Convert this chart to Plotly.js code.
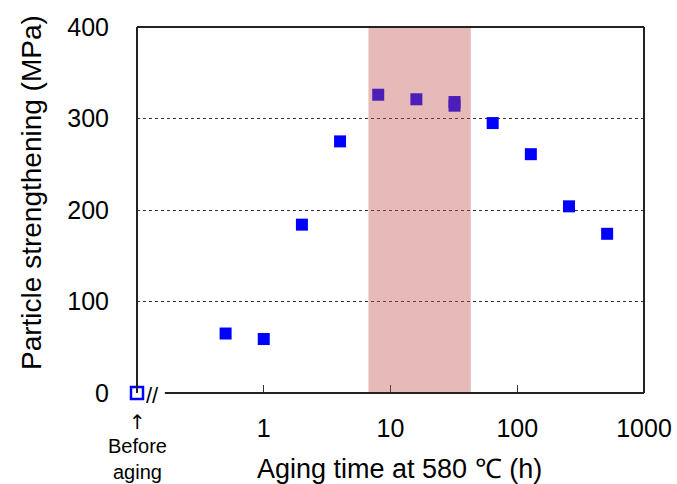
<!DOCTYPE html>
<html><head><meta charset="utf-8">
<script src="https://cdn.plot.ly/plotly-3.0.1.min.js"></script>
<style>body{margin:0;background:#fff}#chart{width:677px;height:484px}</style>
</head><body><div id="chart"></div>
<script>
// Data
const agingTime = [0.5, 1, 2, 4, 8, 16, 32, 32, 64, 128, 256, 512];
const strengthening = [65, 59, 184, 275, 326, 321, 318, 314, 295, 261, 204, 174];
const beforeX = [0.1];
const beforeY = [0];
const shadeRange = [6.7, 43];
const xTickVals = [1, 10, 100, 1000];
const xTickText = ['1', '10', '100', '1000'];
const yTickVals = [0, 100, 200, 300, 400];
const xRangeLog = [-1, 3];

const F = 'Liberation Sans, Arial, sans-serif';
const toPaper = v => (Math.log10(v) - xRangeLog[0]) / (xRangeLog[1] - xRangeLog[0]);

const traces = [
  {x: agingTime, y: strengthening, type: 'scatter', mode: 'markers',
   marker: {symbol: 'square', size: 12, color: '#0000ff'}, hoverinfo: 'x+y'},
  {x: beforeX, y: beforeY, type: 'scatter', mode: 'markers', cliponaxis: false,
   marker: {symbol: 'square-open', size: 12, color: '#0000ff', line: {width: 2.5, color: '#0000ff'}}}
];

const layout = {
  width: 677, height: 484,
  margin: {l: 137, r: 33, t: 27, b: 91},
  paper_bgcolor: '#fff', plot_bgcolor: '#fff',
  showlegend: false,
  font: {family: F, color: '#000'},
  xaxis: {type: 'log', range: xRangeLog, tickvals: xTickVals, ticktext: xTickText,
    ticks: 'inside', ticklen: 8, tickwidth: 1, tickcolor: '#333',
    showgrid: false, zeroline: false, showline: false,
    tickfont: {size: 25, family: F, color: '#000'}, ticklabelstandoff: 18},
  yaxis: {range: [0, 400], tickvals: yTickVals, ticks: '', showline: false,
    showgrid: true, gridcolor: '#333', griddash: 'dot', gridwidth: 1, zeroline: false,
    tickfont: {size: 25, family: F, color: '#000'}, ticklabelstandoff: 27},
  shapes: [
    {type: 'rect', xref: 'paper', yref: 'paper', x0: toPaper(shadeRange[0]), x1: toPaper(shadeRange[1]),
     y0: 0, y1: 1, fillcolor: 'rgba(192,77,77,0.39)', line: {width: 0}, layer: 'above'},
    {type: 'line', xref: 'paper', yref: 'paper', x0: 0, x1: 0, y0: 0, y1: 1, line: {color: '#222', width: 2}, layer: 'above'},
    {type: 'line', xref: 'paper', yref: 'paper', x0: 0, x1: 1, y0: 1, y1: 1, line: {color: '#222', width: 2}, layer: 'above'},
    {type: 'line', xref: 'paper', yref: 'paper', x0: 1, x1: 1, y0: 0, y1: 1, line: {color: '#222', width: 2}, layer: 'above'},
    {type: 'line', xref: 'paper', yref: 'paper', x0: 0.055, x1: 1, y0: 0, y1: 0, line: {color: '#222', width: 2}, layer: 'above'}
  ],
  annotations: [
    {xref: 'paper', yref: 'paper', x: 0.03, y: 0, yshift: -2, text: '//', showarrow: false,
     font: {size: 22, family: F, color: '#000'}, xanchor: 'center', yanchor: 'middle'},
    {xref: 'paper', yref: 'paper', x: 0.0, y: 0, yshift: -29, text: '↑', showarrow: false,
     font: {size: 20, family: 'DejaVu Sans', color: '#000'}, xanchor: 'center', yanchor: 'middle'},
    {xref: 'paper', yref: 'paper', x: 0.0, y: 0, yshift: -66, text: 'Before<br>aging', showarrow: false,
     font: {size: 20, family: F, color: '#000'}, xanchor: 'center', yanchor: 'middle'},
    {xref: 'paper', yref: 'paper', x: (399 - 137) / 507, y: 0, yshift: -76, text: 'Aging time at 580 ℃ (h)', showarrow: false,
     font: {size: 27, family: F, color: '#000'}, xanchor: 'center', yanchor: 'middle'},
    {xref: 'paper', yref: 'paper', x: 0, xshift: -105, y: (393 - 193) / 366, text: 'Particle strengthening (MPa)', showarrow: false,
     textangle: -90, font: {size: 28, family: F, color: '#000'}, xanchor: 'center', yanchor: 'middle'}
  ]
};

Plotly.newPlot('chart', traces, layout, {displayModeBar: false, staticPlot: true});
</script>
</body></html>
